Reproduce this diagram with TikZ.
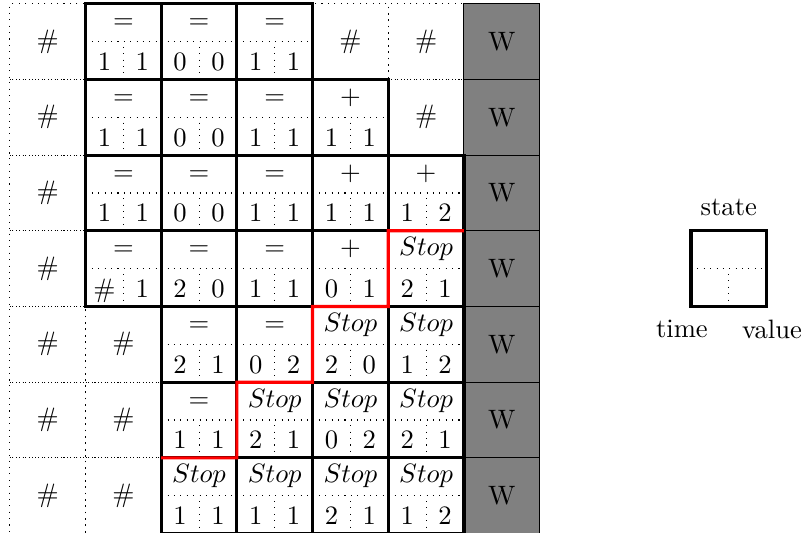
\documentclass[tikz,border=0pt]{standalone}
\usepackage{tikz}
\usepackage{amsmath}
\usetikzlibrary{positioning}

\begin{document}
\begin{tikzpicture}[
    box/.style={draw, very thick, minimum size=1cm, inner sep=0pt, outer sep=0pt},
    blank/.style={draw, dotted, minimum size=1cm, inner sep=0pt, outer sep=0pt},
    wall/.style={draw, fill=gray, minimum size=1cm, inner sep=0pt, outer sep=0pt},
    sep/.style={dotted},
    border/.style={red, very thick}
]
    \useasboundingbox (-0.13,0.01) rectangle (10.52,7.05);

    % Empty cells
    \foreach \c/\r in {0/0, 0/1, 0/2, 0/3, 0/4, 0/5, 0/6, 1/4, 1/5, 1/6, 4/0, 5/0, 5/1}
        \node[blank] (b-\r-\c) at (\c+0.5, 6.5-\r) {$\#$};

    % Wall column
    \foreach \r in {0,...,6}
        \node[wall] (w-\r) at (6.5, 6.5-\r) {W};

    % Filled cells: column / row / state / time / value
    \foreach \c/\r/\s/\t/\v in {
        1/0/$=$/1/1, 2/0/$=$/0/0, 3/0/$=$/1/1,
        1/1/$=$/1/1, 2/1/$=$/0/0, 3/1/$=$/1/1, 4/1/$+$/1/1,
        1/2/$=$/1/1, 2/2/$=$/0/0, 3/2/$=$/1/1, 4/2/$+$/1/1, 5/2/$+$/1/2,
        1/3/$=$/$\#$/1, 2/3/$=$/2/0, 3/3/$=$/1/1, 4/3/$+$/0/1, 5/3/$Stop$/2/1,
        2/4/$=$/2/1, 3/4/$=$/0/2, 4/4/$Stop$/2/0, 5/4/$Stop$/1/2,
        2/5/$=$/1/1, 3/5/$Stop$/2/1, 4/5/$Stop$/0/2, 5/5/$Stop$/2/1,
        2/6/$Stop$/1/1, 3/6/$Stop$/1/1, 4/6/$Stop$/2/1, 5/6/$Stop$/1/2}
    {
        \node[box] (s-\r-\c) at (\c+0.5, 6.5-\r) {};
        \draw[sep] (s-\r-\c.west) -- (s-\r-\c.east);
        \draw[sep] ([yshift=-0.07cm]s-\r-\c.center) -- ([yshift=0.09cm]s-\r-\c.south);
        \node[anchor=base] (st-\r-\c) at ([yshift=0.17cm]s-\r-\c.center) {\s};
        \node[anchor=base] (ti-\r-\c) at ([xshift=-0.25cm, yshift=-0.38cm]s-\r-\c.center) {\t};
        \node[anchor=base] (va-\r-\c) at ([xshift=0.25cm, yshift=-0.38cm]s-\r-\c.center) {\v};
    }

    % Stop frontier
    \draw[border] (s-3-5.north east) -- (s-3-5.north west) -- (s-3-5.south west)
        -- (s-4-4.north west) -- (s-4-4.south west) -- (s-5-3.north west)
        -- (s-5-3.south west) -- (s-6-2.north west);

    % Legend
    \node[box] (key) at (9.5, 3.5) {};
    \draw[sep] (key.west) -- (key.east);
    \draw[sep] ([yshift=-0.07cm]key.center) -- ([yshift=0.09cm]key.south);
    \node[above=0.07cm of key] (state) {state};
    \node[below=0.06cm of key.south west, xshift=-0.12cm] (time) {time};
    \node[below=0.06cm of key.south east, xshift=0.07cm] (value) {value};
\end{tikzpicture}
\end{document}
